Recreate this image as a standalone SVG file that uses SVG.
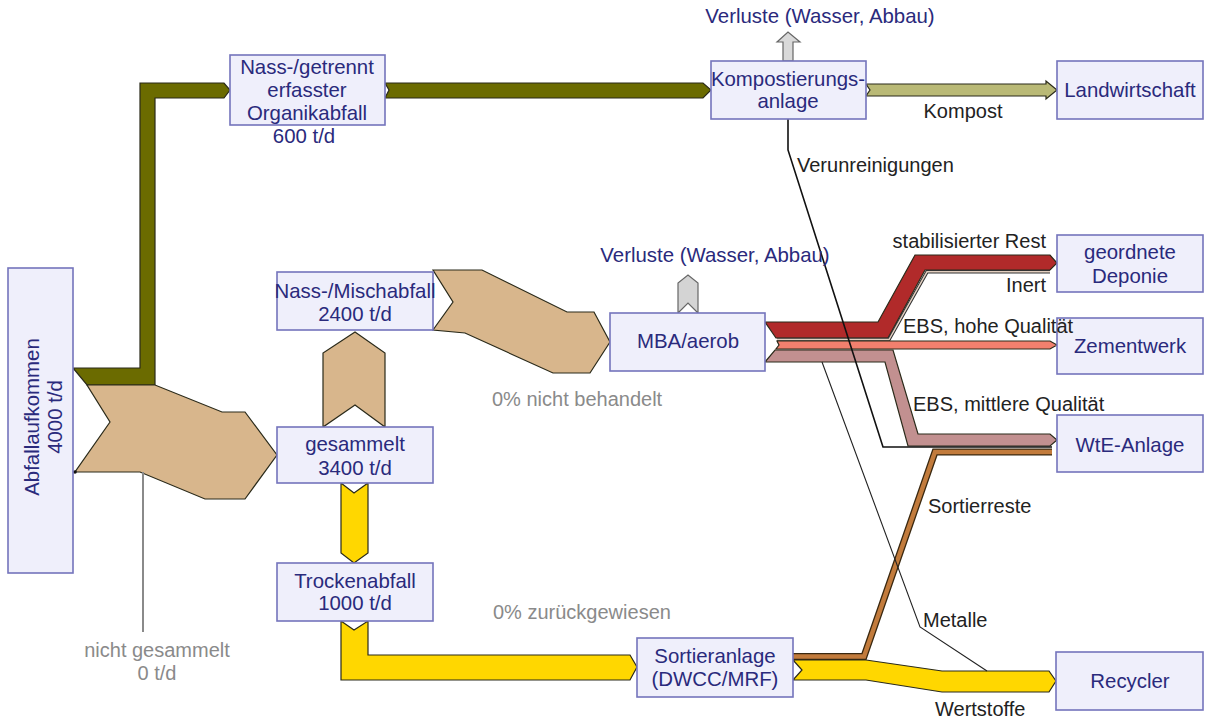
<svg xmlns="http://www.w3.org/2000/svg" width="1207" height="722" viewBox="0 0 1207 722">
<style>
.box{fill:#efeffb;stroke:#7474bc;stroke-width:1.6}
.bt{font-family:"Liberation Sans",Arial,sans-serif;font-size:20.4px;fill:#2a2a7c;text-anchor:middle}
.lb{font-family:"Liberation Sans",Arial,sans-serif;font-size:20px;fill:#222}
.gl{font-family:"Liberation Sans",Arial,sans-serif;font-size:20px;fill:#8a8a8a}
.fl{stroke:#2a2a1a;stroke-width:1.2;stroke-linejoin:miter}
</style>
<rect width="1207" height="722" fill="#fff"/>
<g id="connectors">
  <polygon class="fl" fill="#6b6b00" points="73,368 140,368 140,83 224,83 230,90 224,98 155,98 155,385 87,385"/>
  <polygon class="fl" fill="#d8b68c" points="87,385 155,385 222,412 245,412 277,455 245,499 205,499 140,472 75,472 110,422"/>
  <circle cx="75" cy="472" r="1.8" fill="#111"/>
  <line x1="143" y1="472" x2="143" y2="632" stroke="#8a8a8a" stroke-width="2"/>
  <polygon class="fl" fill="#6b6b00" points="385,83 703,83 711,90 703,98 385,98 389,90"/>
  <polygon class="fl" fill="#b9b976" points="866,84 1046,84 1046,81 1057,90 1046,99 1046,96 866,96 870,90"/>
  <polygon stroke="#666" stroke-width="1.2" fill="#d9d9d9" points="783,61 783,42 777,42 788,32 800,42 793,42 793,61"/>
  <polygon stroke="#666" stroke-width="1.2" fill="#d4d4d4" points="678,313 678,283 688,275 698,283 698,313 688,303"/>
  <polygon class="fl" fill="#d8b68c" points="323,427 323,353 355,332 385,353 385,427 355,405"/>
  <polygon class="fl" fill="#d8b68c" points="433,270 482,270 567,312 594,312 610,342 590,373 553,373 465,333 433,330 453,302"/>
  <polygon class="fl" fill="#ffd700" points="341,483 354,493 368,483 368,553 354,563 341,553"/>
  <polygon class="fl" fill="#ffd700" points="341,621 354,630 368,621 368,655 630,655 637,667 630,680 341,680"/>
  <polygon class="fl" fill="#b12a2a" points="765,322 878,322 915,255 1050,255 1057,263 1050,270 925,270 888,338 776,338"/>
  <polyline fill="none" stroke="#333" stroke-width="3.5" points="777,339.5 889,339.5 927,271.8 1050,271.8"/>
  <polyline fill="none" stroke="#e2cfc0" stroke-width="1.4" points="777,339.5 889,339.5 927,271.8 1050,271.8"/>
  <polygon class="fl" fill="#f2806e" points="777,341 1050,341 1057,345 1050,349 776,349 779,345"/>
  <polygon class="fl" fill="#c29090" points="775,350 893,350 918,434 1050,434 1057,440 1050,446 908,446 885,362 765,362"/>
  <polyline fill="none" stroke="#3a2810" stroke-width="7" points="793,656.5 864,656.5 935,452 1052,452"/>
  <polyline fill="none" stroke="#c27b3c" stroke-width="4.4" points="793,656.5 864,656.5 935,452 1052,452"/>
  <polygon class="fl" fill="#ffd700" points="793,660 866,660 942,671 1049,671 1056,681 1049,692 942,692 866,680 793,680 802,670"/>
  <polyline fill="none" stroke="#111" stroke-width="1.6" points="788,119 788,150 883,447 1052,447"/>
  <polyline fill="none" stroke="#222" stroke-width="1.1" points="822,362 920,627 987,671"/>
</g>
<g id="abfallaufkommen">
  <rect class="box" x="8" y="268" width="65" height="305"/>
  <text class="bt" transform="translate(39,417) rotate(-90)">Abfallaufkommen</text>
  <text class="bt" transform="translate(62,417) rotate(-90)">4000 t/d</text>
</g>
<g id="organikabfall">
  <rect class="box" x="230" y="55" width="155" height="70"/>
  <text class="bt" x="307" y="74">Nass-/getrennt</text>
  <text class="bt" x="307" y="97">erfasster</text>
  <text class="bt" x="307" y="120">Organikabfall</text>
  <text class="bt" x="304" y="143">600 t/d</text>
</g>
<g id="mischabfall">
  <rect class="box" x="277" y="272" width="156" height="58"/>
  <text class="bt" x="355" y="298">Nass-/Mischabfall</text>
  <text class="bt" x="355" y="321">2400 t/d</text>
</g>
<g id="gesammelt">
  <rect class="box" x="277" y="427" width="156" height="56"/>
  <text class="bt" x="355" y="451">gesammelt</text>
  <text class="bt" x="355" y="475">3400 t/d</text>
</g>
<g id="trockenabfall">
  <rect class="box" x="277" y="563" width="156" height="58"/>
  <text class="bt" x="355" y="588">Trockenabfall</text>
  <text class="bt" x="355" y="610">1000 t/d</text>
</g>
<g id="kompostierung">
  <rect class="box" x="711" y="61" width="155" height="58"/>
  <text class="bt" x="788" y="86">Kompostierungs-</text>
  <text class="bt" x="788" y="108">anlage</text>
</g>
<g id="mba">
  <rect class="box" x="610" y="313" width="155" height="58"/>
  <text class="bt" x="688" y="348">MBA/aerob</text>
</g>
<g id="sortieranlage">
  <rect class="box" x="637" y="638" width="156" height="59"/>
  <text class="bt" x="715" y="663">Sortieranlage</text>
  <text class="bt" x="715" y="686">(DWCC/MRF)</text>
</g>
<g id="landwirtschaft">
  <rect class="box" x="1057" y="61" width="146" height="58"/>
  <text class="bt" x="1130" y="97">Landwirtschaft</text>
</g>
<g id="deponie">
  <rect class="box" x="1057" y="235" width="146" height="57"/>
  <text class="bt" x="1130" y="259">geordnete</text>
  <text class="bt" x="1130" y="283">Deponie</text>
</g>
<g id="zementwerk">
  <rect class="box" x="1057" y="318" width="146" height="56"/>
  <text class="bt" x="1130" y="353">Zementwerk</text>
</g>
<g id="wte">
  <rect class="box" x="1057" y="415" width="146" height="57"/>
  <text class="bt" x="1130" y="452">WtE-Anlage</text>
</g>
<g id="recycler">
  <rect class="box" x="1056" y="652" width="147" height="58"/>
  <text class="bt" x="1130" y="688">Recycler</text>
</g>
<g id="labels">
  <text class="bt" x="820" y="23">Verluste (Wasser, Abbau)</text>
  <text class="bt" x="715" y="262">Verluste (Wasser, Abbau)</text>
  <text class="lb" x="963" y="118" text-anchor="middle">Kompost</text>
  <text class="lb" x="797" y="172">Verunreinigungen</text>
  <text class="lb" x="1046" y="248" text-anchor="end">stabilisierter Rest</text>
  <text class="lb" x="1046" y="292" text-anchor="end">Inert</text>
  <text class="lb" x="903" y="333">EBS, hohe Qualität</text>
  <text class="lb" x="913" y="411">EBS, mittlere Qualität</text>
  <text class="lb" x="928" y="513">Sortierreste</text>
  <text class="lb" x="923" y="627">Metalle</text>
  <text class="lb" x="935" y="716">Wertstoffe</text>
  <text class="gl" x="492" y="406">0% nicht behandelt</text>
  <text class="gl" x="493" y="619">0% zurückgewiesen</text>
  <text class="gl" x="157" y="657" text-anchor="middle">nicht gesammelt</text>
  <text class="gl" x="157" y="680" text-anchor="middle">0 t/d</text>
</g>
</svg>
